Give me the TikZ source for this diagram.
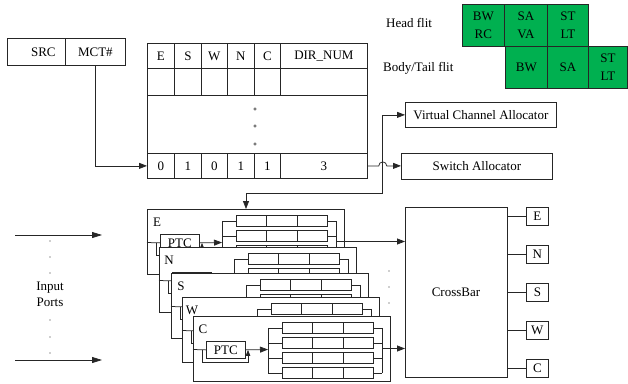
\documentclass[tikz,border=0pt]{standalone}
\usepackage{fontspec}
\setmainfont{Liberation Serif}
\usetikzlibrary{arrows.meta}
\definecolor{flitgreen}{HTML}{00B050}
\newcommand{\ipbox}[5]{%
\begin{scope}[shift={(#2,#3)}]
 \node[cell, minimum width=197pt, minimum height=65pt] (#1) at (0,0) {};
 \node[inner sep=0pt] (#1lbl) at (10,13.5) {#4};
 \node[cell, minimum width=39pt, minimum height=17pt] (#1ptc) at (13,25) {#5};
 \coordinate (#1in) at (0,33.5);
 \coordinate (#1lb) at (75,33.5);
 \coordinate (#1rb) at (189,32.5);
 \coordinate (#1fa) at (9,33.5);
 \coordinate (#1fb) at (55,46);
 \draw[ln] (#1in) -- (#1ptc.west);
 \draw[arr] (#1ptc.east) -- (#1lb);
 \draw[sarr] (#1fa) |- (#1fb) -- (#1fb |- #1ptc.east);
 \foreach \ry/\rk in {6/1,21/2,36/3,51/4}{%
   \node[cell, minimum width=30pt, minimum height=11pt] (#1b\rk a) at (89,\ry) {};
   \node[cell, minimum width=31pt, minimum height=11pt] (#1b\rk b) at (119,\ry) {};
   \node[cell, minimum width=30pt, minimum height=11pt] (#1b\rk c) at (150,\ry) {};
   \draw[ln] (#1lb |- #1b\rk a.west) -- (#1b\rk a.west);
   \draw[ln] (#1b\rk c.east) -- (#1rb |- #1b\rk c.east);
 }
 \draw[ln] (#1lb |- #1b1a.west) -- (#1lb |- #1b4a.west);
 \draw[ln] (#1rb |- #1b1c.east) -- (#1rb |- #1b4c.east);
\end{scope}}
\begin{document}
\begin{tikzpicture}[x=1pt,y=-1pt,
  every node/.style={font=\fontsize{13}{16}\selectfont, text=black},
  ln/.style={draw=black!85, line width=0.75pt},
  cell/.style={ln, fill=white, inner sep=0pt, anchor=north west},
  gcell/.style={draw=black!85, line width=0.75pt, fill=flitgreen, inner sep=0pt, anchor=north west, align=center, font=\fontsize{13}{18}\selectfont},
  arr/.style={ln, -{Triangle[length=8pt,width=6pt]}},
  sarr/.style={ln, -{Triangle[length=6pt,width=4.5pt]}},
]
\fill[white] (0,0) rectangle (628,383);
\useasboundingbox (0,0) rectangle (628,383);

% SRC / MCT#
\node[cell, minimum width=58pt, minimum height=27pt] (src) at (7,38) {\hspace*{14pt}SRC};
\node[cell, minimum width=60pt, minimum height=27pt] (mct) at (65,38) {MCT\#};

% table
\node[cell, minimum width=27pt, minimum height=25pt] (t1a) at (147,43) {E};
\node[cell, minimum width=27pt, minimum height=25pt] (t1b) at (174,43) {S};
\node[cell, minimum width=26pt, minimum height=25pt] (t1c) at (201,43) {W};
\node[cell, minimum width=27pt, minimum height=25pt] (t1d) at (227,43) {N};
\node[cell, minimum width=26pt, minimum height=25pt] (t1e) at (254,43) {C};
\node[cell, minimum width=87pt, minimum height=25pt] (t1f) at (280,43) {DIR\_NUM};
\node[cell, minimum width=27pt, minimum height=27pt] (t2a) at (147,68) {};
\node[cell, minimum width=27pt, minimum height=27pt] (t2b) at (174,68) {};
\node[cell, minimum width=26pt, minimum height=27pt] (t2c) at (201,68) {};
\node[cell, minimum width=27pt, minimum height=27pt] (t2d) at (227,68) {};
\node[cell, minimum width=26pt, minimum height=27pt] (t2e) at (254,68) {};
\node[cell, minimum width=87pt, minimum height=27pt] (t2f) at (280,68) {};
\node[cell, minimum width=220pt, minimum height=58pt] (t3) at (147,95) {};
\node[cell, minimum width=27pt, minimum height=25pt] (t4a) at (147,153) {0};
\node[cell, minimum width=27pt, minimum height=25pt] (t4b) at (174,153) {1};
\node[cell, minimum width=26pt, minimum height=25pt] (t4c) at (201,153) {0};
\node[cell, minimum width=27pt, minimum height=25pt] (t4d) at (227,153) {1};
\node[cell, minimum width=26pt, minimum height=25pt] (t4e) at (254,153) {1};
\node[cell, minimum width=87pt, minimum height=25pt] (t4f) at (280,153) {3};
\foreach \yy in {109,126,144} \draw[draw=black!70, line width=0.5pt] (255,\yy) circle (1.3pt);

% flit pipeline
\node (hf) [anchor=west, inner sep=0pt] at (386,23) {Head flit};
\node (bf) [anchor=west, inner sep=0pt] at (383,68) {Body/Tail flit};
\node[gcell, minimum width=42pt, minimum height=42pt] (h1) at (462,4) {BW\\RC};
\node[gcell, minimum width=43pt, minimum height=42pt] (h2) at (504,4) {SA\\VA};
\node[gcell, minimum width=41pt, minimum height=42pt] (h3) at (547,4) {ST\\LT};
\node[gcell, minimum width=42pt, minimum height=42pt] (b1) at (505,46) {BW};
\node[gcell, minimum width=41pt, minimum height=42pt] (b2) at (547,46) {SA};
\node[gcell, minimum width=39pt, minimum height=42pt] (b3) at (588,46) {ST\\LT};

% allocators
\node[cell, minimum width=151pt, minimum height=25pt] (vca) at (405,102) {Virtual Channel Allocator};
\node[cell, minimum width=151pt, minimum height=26pt] (sa) at (401,152.5) {Switch Allocator};

\draw[arr] (mct.south) |- (t4a.west);
\draw[arr] (t4f.east) -- ++(11,0) arc[start angle=180,end angle=0,radius=4pt] -- (sa.west);

% input port stack
\ipbox{E}{147}{209}{E}{PTC}
\ipbox{N}{159}{247}{N}{}
\ipbox{S}{171}{273}{S}{}
\ipbox{W}{182}{297}{W}{}
\ipbox{C}{193}{316}{C}{PTC}

\coordinate (jn) at (382,193);
\coordinate (ein) at (246,209);
\draw[ln, {Triangle[length=8pt,width=6pt]}-{Triangle[length=8pt,width=6pt]}] (vca.west) -| (jn) -| (ein);

% crossbar
\node[cell, minimum width=102pt, minimum height=170pt] (xbar) at (405,207) {};
\node (xlbl) at (456,292) {CrossBar};
\draw[arr] (Erb) -- (Erb -| xbar.west);
\draw[arr] (Crb) -- (Crb -| xbar.west);
\foreach \yy in {271,287,303} \fill[black!80] (389,\yy) circle (0.7pt);

% output ports
\node[cell, minimum width=22pt, minimum height=18pt] (pE) at (526,207) {E};
\node[cell, minimum width=22pt, minimum height=18pt] (pN) at (526,245) {N};
\node[cell, minimum width=22pt, minimum height=18pt] (pS) at (526,283) {S};
\node[cell, minimum width=22pt, minimum height=18pt] (pW) at (526,321) {W};
\node[cell, minimum width=22pt, minimum height=18pt] (pC) at (526,359) {C};
\foreach \p in {pE,pN,pS,pW,pC} \draw[ln] (xbar.east |- \p.west) -- (\p.west);

% input ports
\coordinate (ia1) at (15,235);
\coordinate (ib1) at (102,235);
\coordinate (ia2) at (15,360);
\coordinate (ib2) at (102,360);
\draw[ln, -{Triangle[length=10pt,width=6pt]}] (ia1) -- (ib1);
\draw[ln, -{Triangle[length=10pt,width=6pt]}] (ia2) -- (ib2);
\node[align=center] (inp) at (50,294) {Input\\Ports};
\foreach \yy in {241,257,273,320,337,353} \fill[black!80] (50,\yy) circle (0.7pt);
\end{tikzpicture}
\end{document}
